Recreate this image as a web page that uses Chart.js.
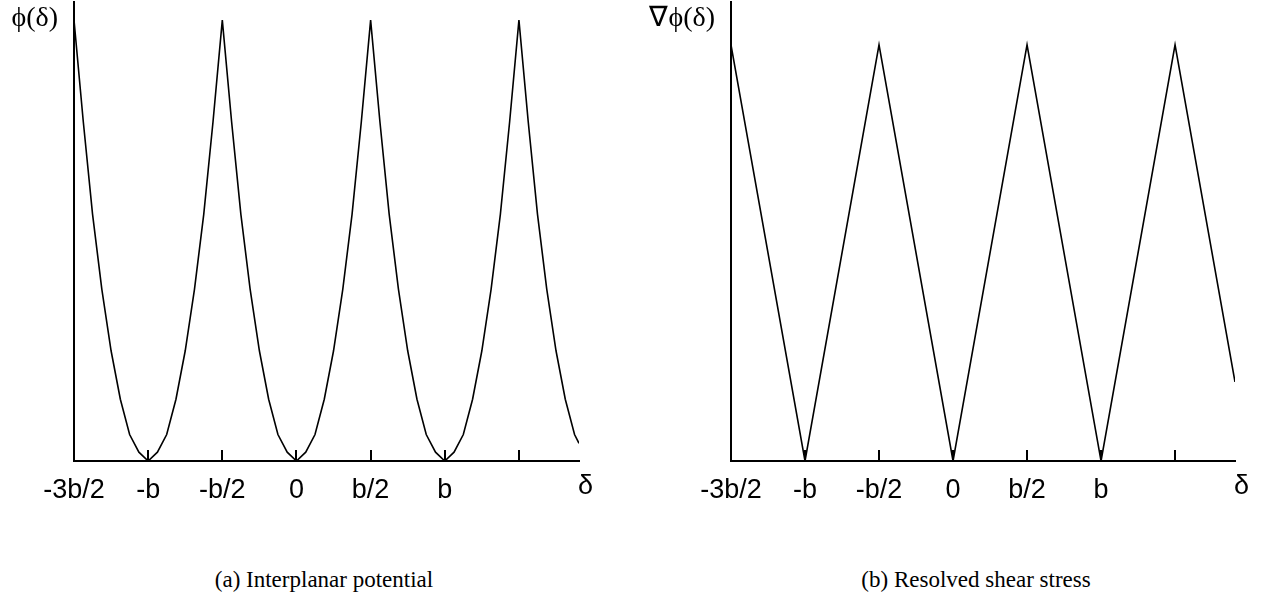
<!DOCTYPE html>
<html>
<head>
<meta charset="utf-8">
<script src="https://cdn.jsdelivr.net/npm/chart.js@4.4.1/dist/chart.umd.min.js"></script>
<style>
  body { margin: 0; background: #fff; width: 1266px; height: 604px; overflow: hidden; position: relative; }
  .panel { position: absolute; top: 0; width: 633px; height: 520px; }
  .caption { position: absolute; top: 567px; font-family: "Liberation Serif", serif; font-size: 23px; color: #000; text-align: center; width: 400px; }
</style>
</head>
<body>
<div class="panel" style="left:0"><canvas id="graficoPotencial"></canvas></div>
<div class="panel" style="left:633px"><canvas id="graficoTensao"></canvas></div>
<div class="caption" style="left:124px">(a) Interplanar potential</div>
<div class="caption" style="left:776px">(b) Resolved shear stress</div>
<script>
// x in units of b/2 : -3 = -3b/2, 0 = 0, 2 = b
var tickValues = [-3, -2, -1, 0, 1, 2, 3];
var tickLabels = ['-3b/2', '-b', '-b/2', '0', 'b/2', 'b', ''];

// (a) interplanar potential (normalised to peak = 1)
var deltaPotencial = [
  -3, -2.875, -2.75, -2.625, -2.5, -2.375, -2.25, -2.125,
  -2, -1.875, -1.75, -1.625, -1.5, -1.375, -1.25, -1.125,
  -1, -0.875, -0.75, -0.625, -0.5, -0.375, -0.25, -0.125,
  0, 0.125, 0.25, 0.375, 0.5, 0.625, 0.75, 0.875,
  1, 1.125, 1.25, 1.375, 1.5, 1.625, 1.75, 1.875,
  2, 2.125, 2.25, 2.375, 2.5, 2.625, 2.75, 2.875,
  3, 3.125, 3.25, 3.375, 3.5, 3.625, 3.75, 3.81
];
var valoresPotencial = [
  1, 0.77, 0.56, 0.39, 0.25, 0.14, 0.06, 0.02,
  0, 0.02, 0.06, 0.14, 0.25, 0.39, 0.56, 0.77,
  1, 0.77, 0.56, 0.39, 0.25, 0.14, 0.06, 0.02,
  0, 0.02, 0.06, 0.14, 0.25, 0.39, 0.56, 0.77,
  1, 0.77, 0.56, 0.39, 0.25, 0.14, 0.06, 0.02,
  0, 0.02, 0.06, 0.14, 0.25, 0.39, 0.56, 0.77,
  1, 0.77, 0.56, 0.39, 0.25, 0.14, 0.06, 0.04
];

// (b) resolved shear stress
var deltaTensao = [-3, -2, -1, 0, 1, 2, 3, 3.81];
var valoresTensao = [1, 0, 1, 0, 1, 0, 1, 0.19];

function montarPontos(xs, ys)
{
    var pontos = [];
    for (var i = 0; i < xs.length; i++) {
        pontos.push({ x: xs[i], y: ys[i] });
    }
    return pontos;
}

// axis-end labels and inward tick marks
var pluginEixos = {
    id: 'eixos',
    afterDraw: function (chart, args, opts) {
        var ctx = chart.ctx;
        var area = chart.chartArea;
        var sx = chart.scales.x;
        ctx.save();
        ctx.strokeStyle = '#000';
        ctx.lineWidth = 2;
        for (var i = 1; i < tickValues.length; i++) {
            var px = Math.round(sx.getPixelForValue(tickValues[i]));
            ctx.beginPath();
            ctx.moveTo(px, area.bottom);
            ctx.lineTo(px, area.bottom - 11);
            ctx.stroke();
        }
        ctx.fillStyle = '#000';
        ctx.font = '28px "Liberation Serif", serif';
        ctx.textAlign = 'right';
        ctx.textBaseline = 'alphabetic';
        ctx.fillText(opts.rotuloY, area.left - 16, 26);
        ctx.font = '27px "Liberation Sans", Arial, sans-serif';
        ctx.textAlign = 'left';
        ctx.fillText('δ', area.right - 1, 494);
        ctx.restore();
    }
};

function criarGrafico(idCanvas, xs, ys, maxY, padEsq, padDir, rotuloY)
{
    var ctx = document.getElementById(idCanvas);
    return new Chart(ctx, {
        type: 'line',
        data: {
            datasets: [{
                data: montarPontos(xs, ys),
                borderColor: '#000',
                borderWidth: 1.6,
                pointRadius: 0,
                tension: 0,
                fill: false
            }]
        },
        options: {
            responsive: false,
            animation: false,
            events: [],
            layout: { padding: { left: padEsq, right: padDir, top: 2, bottom: 0 } },
            plugins: {
                legend: { display: false },
                tooltip: { enabled: false },
                eixos: { rotuloY: rotuloY }
            },
            scales: {
                x: {
                    type: 'linear',
                    min: -3,
                    max: 3.81,
                    afterBuildTicks: function (scale) {
                        scale.ticks = tickValues.map(function (v) { return { value: v }; });
                    },
                    afterFit: function (scale) { scale.height = 59; },
                    grid: { display: false, drawTicks: false },
                    border: { display: true, color: '#000', width: 2 },
                    ticks: {
                        autoSkip: false,
                        maxRotation: 0,
                        padding: 13,
                        color: '#000',
                        font: { family: '"Liberation Sans", Arial, sans-serif', size: 27 },
                        callback: function (value) {
                            var i = tickValues.indexOf(value);
                            return i >= 0 ? tickLabels[i] : '';
                        }
                    }
                },
                y: {
                    type: 'linear',
                    min: 0,
                    max: maxY,
                    afterFit: function (scale) { scale.width = 0; },
                    grid: { display: false, drawTicks: false },
                    border: { display: true, color: '#000', width: 2 },
                    ticks: { display: false }
                }
            }
        },
        plugins: [pluginEixos]
    });
}

function ajustarCanvas(id)
{
    var c = document.getElementById(id);
    c.width = 633;
    c.height = 520;
    c.style.width = '633px';
    c.style.height = '520px';
}

ajustarCanvas('graficoPotencial');
ajustarCanvas('graficoTensao');
criarGrafico('graficoPotencial', deltaPotencial, valoresPotencial, 1.041, 74, 54, 'ϕ(δ)');
criarGrafico('graficoTensao', deltaTensao, valoresTensao, 1.103, 98, 31, '∇ϕ(δ)');
</script>
</body>
</html>
